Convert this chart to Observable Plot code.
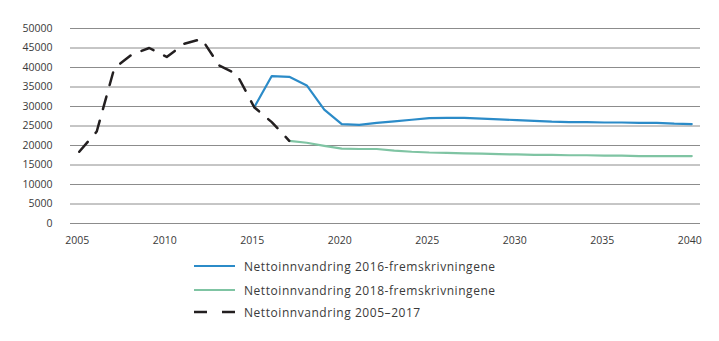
<!DOCTYPE html>
<html>
<head>
<meta charset="utf-8">
<script src="https://cdn.jsdelivr.net/npm/d3@7"></script>
<script src="https://cdn.jsdelivr.net/npm/@observablehq/plot@0.6"></script>
<style>
  html, body { margin: 0; padding: 0; background: #fff; }
  #wrap { position: relative; width: 719px; height: 341px; font-family: "Open Sans", sans-serif; }
  .leg { position: absolute; left: 193px; height: 16px; display: flex; align-items: center; font-size: 12px; letter-spacing: 0.55px; color: #3a3a3a; white-space: nowrap; }
  .leg svg { margin-right: 8px; }
</style>
</head>
<body>
<div id="wrap"></div>
<script>
// Historical net immigration 2005–2017
const histYears = [2005,2006,2007,2008,2009,2010,2011,2012,2013,2014,2015,2016,2017];
const histValues = [18400,23600,39800,43300,45000,42700,46100,47300,40500,38300,29800,26000,21200];

// 2016 projections, 2015–2040
const proj16Years = [2015,2016,2017,2018,2019,2020,2021,2022,2023,2024,2025,2026,2027,2028,2029,2030,2031,2032,2033,2034,2035,2036,2037,2038,2039,2040];
const proj16Values = [29800,37800,37600,35400,29200,25500,25300,25800,26200,26600,27000,27100,27100,26900,26700,26500,26300,26100,26000,26000,25900,25900,25800,25800,25600,25500];

// 2018 projections, 2017–2040
const proj18Years = [2017,2018,2019,2020,2021,2022,2023,2024,2025,2026,2027,2028,2029,2030,2031,2032,2033,2034,2035,2036,2037,2038,2039,2040];
const proj18Values = [21200,20700,19900,19200,19100,19100,18700,18400,18200,18100,18000,17900,17800,17700,17600,17600,17500,17500,17400,17400,17300,17300,17300,17300];

const xTicks = [2005,2010,2015,2020,2025,2030,2035,2040];
const yTicks = [0,5000,10000,15000,20000,25000,30000,35000,40000,45000,50000];

const seriesNames = [
  "Nettoinnvandring 2016-fremskrivningene",
  "Nettoinnvandring 2018-fremskrivningene",
  "Nettoinnvandring 2005\u20132017"
];
const colors = ["#2b8bc8", "#7fc4a3", "#231f20"];

const hist = histYears.map((y, i) => ({year: y, value: histValues[i]}));
const p16 = proj16Years.map((y, i) => ({year: y, value: proj16Values[i]}));
const p18 = proj18Years.map((y, i) => ({year: y, value: proj18Values[i]}));

const chart = Plot.plot({
  width: 719,
  height: 250,
  marginLeft: 70,
  marginRight: 19,
  marginTop: 28,
  marginBottom: 27,
  style: {fontFamily: "Open Sans, sans-serif", fontSize: "10.5px", color: "#3a3a3a", background: "#fff"},
  x: {domain: [2004.5, 2040.5], label: null},
  y: {domain: [0, 50000], label: null},
  marks: [
    Plot.ruleY(yTicks, {stroke: "#8c8c8c", strokeWidth: 1}),
    Plot.axisX(xTicks, {tickFormat: d => String(d), tickSize: 0, tickPadding: 13, dx: -2, label: null}),
    Plot.axisY(yTicks, {tickFormat: d => String(d), tickSize: 0, tickPadding: 18, label: null}),
    Plot.line(p18, {x: "year", y: "value", stroke: colors[1], strokeWidth: 2.2}),
    Plot.line(p16, {x: "year", y: "value", stroke: colors[0], strokeWidth: 2.2}),
    Plot.line(hist, {x: "year", y: "value", stroke: colors[2], strokeWidth: 2.5, strokeDasharray: "13,12"})
  ]
});

const wrap = document.getElementById("wrap");
chart.style.position = "absolute";
chart.style.left = "0px";
chart.style.top = "0px";
wrap.appendChild(chart);

const legTops = [258, 282, 304];
seriesNames.forEach((name, i) => {
  const row = document.createElement("div");
  row.className = "leg";
  row.style.top = legTops[i] + "px";
  const dash = i === 2 ? ' stroke-dasharray="13,15"' : '';
  const sw = i === 2 ? 2.5 : 2.2;
  row.innerHTML = `<svg width="43" height="16"><line x1="1" x2="42" y1="8" y2="8" stroke="${colors[i]}" stroke-width="${sw}"${dash}/></svg><span>${name}</span>`;
  wrap.appendChild(row);
});
</script>
</body>
</html>
